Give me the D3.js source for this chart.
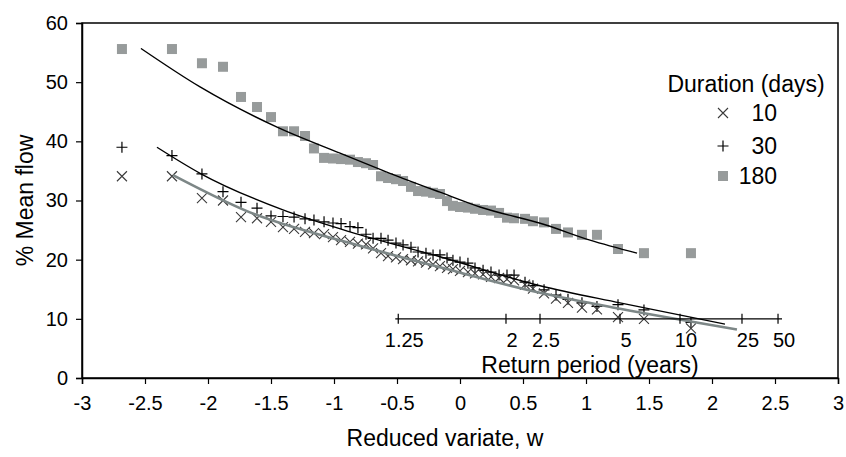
<!DOCTYPE html>
<html><head><meta charset="utf-8">
<script src="https://cdn.jsdelivr.net/npm/d3@7"></script>
<style>
html,body{margin:0;padding:0;background:#fff;}
text{font-family:"Liberation Sans",Arial,sans-serif;fill:#000;}
</style></head>
<body>
<svg id="chart" width="846" height="457"></svg>
<script>
// ---- data ----
const wPos = [-2.683,-2.286,-2.048,-1.881,-1.738,-1.611,-1.500,-1.405,-1.317,-1.230,-1.159,-1.079,-1.008,-0.944,-0.873,-0.810,-0.746,-0.690,-0.627,-0.571,-0.508,-0.452,-0.389,-0.333,-0.270,-0.214,-0.159,-0.103,-0.056,0.000,0.063,0.119,0.183,0.246,0.310,0.373,0.429,0.516,0.579,0.667,0.762,0.857,0.968,1.087,1.254,1.460,1.833];
const flow10 = [34.1,34.1,30.4,30.0,27.2,27.0,26.4,25.5,25.2,24.7,24.5,24.3,23.8,23.3,23.0,22.7,22.6,21.9,21.1,20.6,20.4,20.1,19.9,19.7,19.5,19.2,18.9,18.6,18.4,18.1,17.9,17.7,17.5,17.1,16.9,16.7,16.5,15.8,15.1,14.3,13.4,12.7,11.9,11.6,10.3,10.0,8.4];
const flow30 = [39.0,37.6,34.5,31.5,29.7,28.7,27.4,27.3,27.2,26.9,26.7,26.4,26.2,26.1,25.6,25.4,24.3,23.6,23.6,23.3,22.8,22.5,22.1,21.3,21.1,20.8,20.8,20.3,19.9,19.6,19.4,18.6,18.2,17.9,17.4,17.4,17.4,16.2,15.6,14.9,14.0,13.3,12.7,12.1,12.4,11.5,9.4];
const flow180 = [55.6,55.6,53.2,52.6,47.5,45.8,44.1,41.7,41.7,40.9,38.8,37.2,37.1,37.0,36.9,36.5,36.3,36.0,34.1,33.8,33.6,33.3,32.3,31.6,31.5,31.3,31.1,29.9,29.1,28.9,28.8,28.6,28.4,28.3,27.9,27.1,27.0,26.9,26.5,26.3,25.2,24.6,24.2,24.2,21.8,21.1,21.1];

// fitted curves
const fit10W = [-2.278,-1.667,-0.873,-0.159,0.635,1.270,2.198];
const fit10V = [34.3,28.0,22.8,18.7,14.4,11.7,8.2];
const fit30W = [-2.405,-2.063,-1.405,-0.873,-0.159,0.635,1.270,2.103];
const fit30V = [39.0,34.6,28.4,24.7,20.5,15.6,12.7,9.1];
const fit180W = [-2.532,-2.063,-1.452,-0.952,-0.556,-0.159,0.159,0.675,1.032,1.405];
const fit180V = [55.7,49.2,42.4,38.0,34.6,31.4,28.9,25.9,23.3,21.1];

const xTicks = [-3,-2.5,-2,-1.5,-1,-0.5,0,0.5,1,1.5,2,2.5,3];
const yTicks = [0,10,20,30,40,50,60];
const rpLabels = ["1.25","2","2.5","5","10","25","50"];
const rpW = [-0.49,0.365,0.635,1.27,1.746,2.238,2.524];
const rpLevel = 10;
const legendTitle = "Duration (days)";
const legendLabels = ["10","30","180"];

// ---- chart ----
const svg = d3.select("#chart");
const L = 82, R = 838, T = 23, B = 378;
const x = d3.scaleLinear().domain([-3,3]).range([L,R]);
const y = d3.scaleLinear().domain([0,60]).range([B,T]);

const colSq = "#979b9b", colX = "#3a3a3a", colGrey = "#7d8787";
const pathX = "M-5,-5L5,5M-5,5L5,-5";
const pathP = "M-5.5,0H5.5M0,-5.5V5.5";

// frame
svg.append("rect").attr("x",L).attr("y",T).attr("width",R-L).attr("height",B-T)
  .attr("fill","none").attr("stroke","#000").attr("stroke-width",1.5);

// axes
const xAxis = svg.append("g").attr("transform",`translate(0,${B})`)
  .call(d3.axisBottom(x).tickValues(xTicks).tickSize(6).tickPadding(12).tickFormat(d=>String(d)));
const yAxis = svg.append("g").attr("transform",`translate(${L},0)`)
  .call(d3.axisLeft(y).tickValues(yTicks).tickSize(6).tickPadding(8).tickFormat(d=>String(d)));
[xAxis,yAxis].forEach(g=>{
  g.select(".domain").attr("stroke","#000").attr("stroke-width",1.5);
  g.selectAll(".tick line").attr("stroke","#000").attr("stroke-width",1.2);
  g.selectAll(".tick text").attr("font-size",20).attr("font-family","Liberation Sans, Arial, sans-serif").attr("fill","#000");
});

// axis titles
svg.append("text").attr("x",(L+R)/2-15).attr("y",446).attr("text-anchor","middle")
  .attr("font-size",23).text("Reduced variate, w");
svg.append("text").attr("transform",`translate(33,${(T+B)/2}) rotate(-90)`)
  .attr("text-anchor","middle").attr("font-size",23).text("% Mean flow");

// data markers
const idx = d3.range(wPos.length);
svg.append("g").selectAll("rect").data(idx).join("rect")
  .attr("x",i=>x(wPos[i])-5).attr("y",i=>y(flow180[i])-5)
  .attr("width",10).attr("height",10).attr("fill",colSq);
svg.append("g").selectAll("path").data(idx).join("path")
  .attr("d",pathP).attr("transform",i=>`translate(${x(wPos[i])},${y(flow30[i])})`)
  .attr("stroke","#000").attr("stroke-width",1.2).attr("fill","none");
svg.append("g").selectAll("path").data(idx).join("path")
  .attr("d",pathX).attr("transform",i=>`translate(${x(wPos[i])},${y(flow10[i])})`)
  .attr("stroke",colX).attr("stroke-width",1.1).attr("fill","none");

// fitted lines
const line = (W,V)=>d3.line().curve(d3.curveMonotoneX)
  .x((d,i)=>x(W[i])).y((d,i)=>y(V[i]))(W);
svg.append("path").attr("d",line(fit180W,fit180V)).attr("fill","none").attr("stroke","#000").attr("stroke-width",1.4);
svg.append("path").attr("d",line(fit30W,fit30V)).attr("fill","none").attr("stroke","#000").attr("stroke-width",1.4);
svg.append("path").attr("d",line(fit10W,fit10V)).attr("fill","none").attr("stroke",colGrey).attr("stroke-width",2.6);

// return period axis
const rp = svg.append("g");
rp.append("line").attr("x1",x(rpW[0])-3).attr("x2",x(rpW[rpW.length-1])+4)
  .attr("y1",y(rpLevel)).attr("y2",y(rpLevel)).attr("stroke","#000").attr("stroke-width",1.2);
rp.selectAll("line.t").data(rpW).join("line").attr("class","t")
  .attr("x1",d=>x(d)).attr("x2",d=>x(d)).attr("y1",y(rpLevel)-5).attr("y2",y(rpLevel)+5)
  .attr("stroke","#000").attr("stroke-width",1.2);
rp.selectAll("text").data(rpLabels).join("text")
  .attr("x",(d,i)=>x(rpW[i])+6).attr("y",347).attr("text-anchor","middle")
  .attr("font-size",20).text(d=>d);
svg.append("text").attr("x",590).attr("y",373).attr("text-anchor","middle")
  .attr("font-size",23).text("Return period (years)");

// legend
svg.append("text").attr("x",746).attr("y",92).attr("text-anchor","middle").attr("font-size",23).text(legendTitle);
const legY = [113,146,176];
svg.append("path").attr("d",pathX).attr("transform",`translate(723,${legY[0]})`).attr("stroke",colX).attr("stroke-width",1.1).attr("fill","none");
svg.append("path").attr("d",pathP).attr("transform",`translate(723,${legY[1]})`).attr("stroke","#000").attr("stroke-width",1.2).attr("fill","none");
svg.append("rect").attr("x",718).attr("y",legY[2]-5).attr("width",10).attr("height",10).attr("fill",colSq);
svg.selectAll("text.leg").data(legendLabels).join("text").attr("class","leg")
  .attr("x",777).attr("y",(d,i)=>legY[i]+8).attr("text-anchor","end").attr("font-size",23).text(d=>d);
</script>
</body></html>
